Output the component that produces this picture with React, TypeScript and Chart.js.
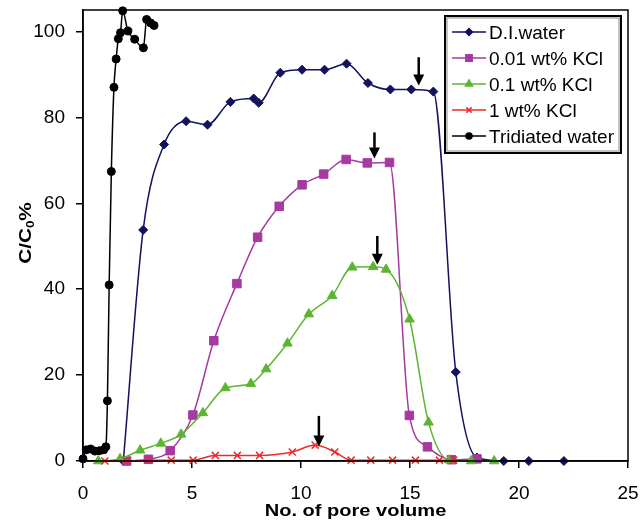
import React, { useEffect, useRef } from 'react';
import { Chart, registerables } from 'chart.js';
import { drawPoint } from 'chart.js/helpers';

Chart.register(...registerables);

const FONT = '"Liberation Sans", Arial, Helvetica, sans-serif';

// ---- data (x = No. of pore volume, y = C/C0 %) ----
const diX = [1.85, 2.76, 3.72, 4.73, 5.71, 6.76, 7.83, 8.06, 9.05, 10.05, 11.08, 12.09, 13.07, 14.1, 15.06, 16.07, 17.1, 18.07, 19.3, 20.45, 22.06];
const diY = [0, 53.8, 73.7, 79.1, 78.3, 83.6, 84.4, 83.4, 90.4, 91.1, 91.1, 92.5, 88.0, 86.5, 86.5, 86.0, 20.7, 0.8, 0, 0, 0];

const kcl001X = [2.0, 3.0, 4.0, 5.04, 6.0, 7.06, 8.01, 9.0, 10.05, 11.04, 12.07, 13.04, 14.06, 14.97, 15.8, 16.9, 18.07];
const kcl001Y = [0, 0.4, 2.4, 10.7, 28.0, 41.3, 52.1, 59.3, 64.3, 66.8, 70.2, 69.4, 69.5, 10.6, 3.3, 0.3, 0.5];

const kcl01X = [0.7, 1.7, 2.62, 3.57, 4.5, 5.5, 6.53, 7.7, 8.4, 9.38, 10.36, 11.43, 12.35, 13.31, 13.9, 14.98, 15.85, 16.8, 17.8, 18.86];
const kcl01Y = [0, 0.5, 2.5, 4.1, 6.2, 11.2, 17.0, 18.0, 21.4, 27.4, 34.2, 38.5, 45.1, 45.2, 44.6, 33.0, 9.0, 0.2, 0, 0];

const kcl1X = [1.0, 2.0, 3.0, 4.05, 5.05, 6.07, 7.08, 8.1, 9.6, 10.65, 11.55, 12.3, 13.2, 14.2, 15.25, 16.35, 17.0];
const kcl1Y = [0, 0, 0.2, 0.2, 0.2, 1.3, 1.3, 1.3, 2.1, 3.7, 2.1, 0.2, 0.2, 0.2, 0.2, 0.2, 0.2];

const tritX = [0, 0.15, 0.35, 0.55, 0.75, 0.95, 1.05, 1.12, 1.2, 1.3, 1.42, 1.52, 1.62, 1.72, 1.82, 2.06, 2.37, 2.77, 2.92, 3.1, 3.26];
const tritY = [0.5, 2.6, 2.8, 2.3, 2.4, 2.6, 3.3, 14, 41, 67.4, 87, 93.6, 98.3, 99.7, 104.8, 100.1, 98.2, 96.2, 102.8, 102.0, 101.4];

const seriesNames = ['D.I.water', '0.01 wt% KCl', '0.1 wt% KCl', '1 wt% KCl', 'Tridiated water'];
const seriesX = [diX, kcl001X, kcl01X, kcl1X, tritX];
const seriesY = [diY, kcl001Y, kcl01Y, kcl1Y, tritY];
const seriesColors = ['#12125e', '#a63aa0', '#5cb531', '#ee2a2a', '#000000'];
const seriesMarkers = ['rectRot', 'rect', 'triangle', 'crossRot', 'circle'];
const markerRadius = [4.5, 6, 5.5, 5, 4];

const xTicks = [0, 5, 10, 15, 20, 25];
const yTicks = [0, 20, 40, 60, 80, 100];

// arrows marking peaks
const arrowX = [15.4, 13.37, 13.5, 10.82];
const arrowTop = [94.0, 76.5, 52.4, 10.5];
const arrowTip = [87.4, 70.4, 45.7, 3.4];

const xTitle = 'No. of pore volume';

const zeroPad = (s: any) => {
  s.paddingTop = 0;
  s.paddingBottom = 0;
  s.paddingLeft = 0;
  s.paddingRight = 0;
};

const decorPlugin = {
  id: 'decor',
  afterDatasetsDraw(chart: any) {
    const { ctx, chartArea: a, scales } = chart;
    const xs = scales.x;
    const ys = scales.y;
    ctx.save();
    // plot frame
    ctx.strokeStyle = '#000';
    ctx.lineWidth = 1.5;
    ctx.strokeRect(a.left, a.top, a.right - a.left, a.bottom - a.top);

    // arrows
    ctx.fillStyle = '#000';
    arrowX.forEach((v, i) => {
      const px = xs.getPixelForValue(v);
      const top = ys.getPixelForValue(arrowTop[i]);
      const tip = ys.getPixelForValue(arrowTip[i]);
      ctx.lineWidth = 2.5;
      ctx.beginPath();
      ctx.moveTo(px, top);
      ctx.lineTo(px, tip - 8);
      ctx.stroke();
      ctx.beginPath();
      ctx.moveTo(px - 5.5, tip - 11);
      ctx.lineTo(px + 5.5, tip - 11);
      ctx.lineTo(px, tip);
      ctx.closePath();
      ctx.fill();
    });

    // legend
    const lx = 445, ly = 16, lw = 176, lh = 137;
    ctx.fillStyle = '#fff';
    ctx.fillRect(lx, ly, lw, lh);
    ctx.strokeStyle = '#000';
    ctx.lineWidth = 2;
    ctx.strokeRect(lx, ly, lw, lh);
    ctx.strokeStyle = '#888';
    ctx.lineWidth = 1;
    ctx.strokeRect(lx + 2, ly + 2, lw - 4, lh - 4);
    ctx.font = `19px ${FONT}`;
    ctx.textAlign = 'left';
    ctx.textBaseline = 'alphabetic';
    seriesNames.forEach((name, i) => {
      const cy = 32 + 26 * i;
      const col = seriesColors[i];
      ctx.strokeStyle = col;
      ctx.fillStyle = col;
      ctx.lineWidth = 1.5;
      ctx.beginPath();
      ctx.moveTo(452, cy);
      ctx.lineTo(486, cy);
      ctx.stroke();
      drawPoint(ctx, { pointStyle: seriesMarkers[i], radius: markerRadius[i] * 0.75, borderWidth: 1.5, rotation: 0 } as any, 469, cy);
      ctx.fillStyle = '#000';
      ctx.fillText(name, 489, cy + 6.5);
    });

    // x title
    ctx.fillStyle = '#000';
    ctx.save();
    ctx.font = `bold 17px ${FONT}`;
    ctx.translate((a.left + a.right) / 2, 515.5);
    ctx.scale(1.18, 1);
    ctx.textAlign = 'center';
    ctx.fillText(xTitle, 0, 0);
    ctx.restore();

    // y title: C/C0%
    ctx.save();
    ctx.translate(31, 233);
    ctx.rotate(-Math.PI / 2);
    ctx.scale(1.22, 1);
    ctx.font = `bold 17px ${FONT}`;
    const p1 = 'C/C';
    const p3 = '%';
    const w1 = ctx.measureText(p1).width;
    const w3 = ctx.measureText(p3).width;
    ctx.font = `bold 11px ${FONT}`;
    const w2 = ctx.measureText('0').width;
    const total = w1 + w2 + w3;
    let cx = -total / 2;
    ctx.textAlign = 'left';
    ctx.font = `bold 17px ${FONT}`;
    ctx.fillText(p1, cx, 0);
    cx += w1;
    ctx.font = `bold 11px ${FONT}`;
    ctx.fillText('0', cx, 3);
    cx += w2;
    ctx.font = `bold 17px ${FONT}`;
    ctx.fillText(p3, cx, 0);
    ctx.restore();

    ctx.restore();
  },
};

export default function App() {
  const ref = useRef<HTMLCanvasElement | null>(null);

  useEffect(() => {
    if (!ref.current) return;
    const datasets = seriesNames.map((name, i) => ({
      label: name,
      data: seriesX[i].map((xv, j) => ({ x: xv, y: seriesY[i][j] })),
      borderColor: seriesColors[i],
      backgroundColor: seriesColors[i],
      pointBackgroundColor: seriesColors[i],
      pointBorderColor: seriesColors[i],
      pointStyle: seriesMarkers[i],
      pointRadius: markerRadius[i],
      pointBorderWidth: i === 3 ? 1.5 : 1,
      borderWidth: 1.5,
      cubicInterpolationMode: 'monotone' as const,
      order: 4 - i,
      clip: false as any,
    }));

    const chart = new Chart(ref.current, {
      type: 'line',
      data: { datasets },
      options: {
        responsive: false,
        maintainAspectRatio: false,
        animation: false,
        devicePixelRatio: 1,
        layout: { autoPadding: false, padding: { left: 0, right: 13, top: 10, bottom: 0 } },
        plugins: { legend: { display: false }, tooltip: { enabled: false } },
        scales: {
          x: {
            type: 'linear',
            min: 0,
            max: 25,
            afterBuildTicks: (s: any) => { s.ticks = xTicks.map((v) => ({ value: v })); },
            afterFit: (s: any) => { s.height = 60; zeroPad(s); },
            grid: { display: true, drawOnChartArea: false, drawTicks: true, tickLength: 7, color: '#000', lineWidth: 1.5 },
            border: { display: true, color: '#000', width: 1.5 },
            ticks: { font: { family: FONT, size: 19 }, color: '#000', padding: 14, maxRotation: 0, autoSkip: false },
          },
          y: {
            type: 'linear',
            min: 0,
            max: 105,
            afterBuildTicks: (s: any) => { s.ticks = yTicks.map((v) => ({ value: v })); },
            afterFit: (s: any) => { s.width = 83; zeroPad(s); },
            grid: { display: true, drawOnChartArea: false, drawTicks: true, tickLength: 7, color: '#000', lineWidth: 1.5 },
            border: { display: true, color: '#000', width: 1.5 },
            ticks: { font: { family: FONT, size: 19 }, color: '#000', padding: 11, autoSkip: false },
          },
        },
      },
      plugins: [decorPlugin],
    });
    return () => chart.destroy();
  }, []);

  return (
    <div style={{ position: 'absolute', left: 0, top: 0, width: 641, height: 521, background: '#fff' }}>
      <canvas ref={ref} width={641} height={521} style={{ width: 641, height: 521, display: 'block' }} />
    </div>
  );
}
